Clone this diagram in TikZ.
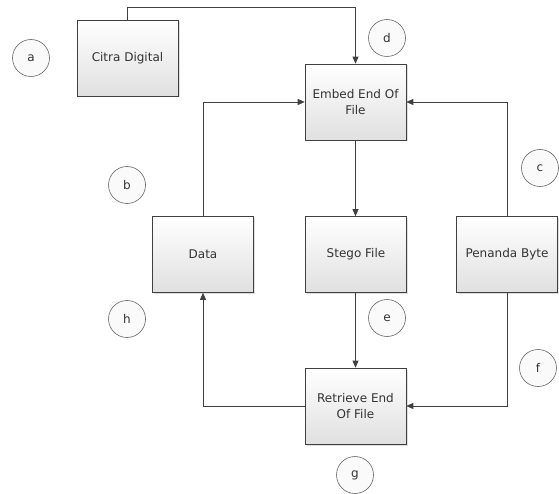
\documentclass[tikz,border=0pt]{standalone}
\usepackage{fontspec}
\setmainfont{DejaVu Sans}
\usetikzlibrary{arrows.meta,shadows}
\definecolor{lineC}{HTML}{404040}
\definecolor{boxB}{HTML}{E0E0E0}
\tikzset{
  box/.style={draw=lineC, line width=0.6pt, top color=white, bottom color=boxB,
    minimum width=101pt, minimum height=76pt, inner sep=2pt, align=center,
    font=\fontsize{12}{16}\selectfont, text=black!80,
    drop shadow={shadow xshift=1.5pt, shadow yshift=-1.5pt, fill=black!25, opacity=0.5}},
  lab/.style={circle, draw=black!60, line width=0.6pt, fill=black!2, minimum size=37pt,
    inner sep=0pt, font=\fontsize{12}{16}\selectfont, text=black!80},
  conn/.style={draw=lineC, line width=0.7pt},
  arr/.style={conn, -{Triangle[length=7pt,width=6pt]}}
}
\begin{document}
\begin{tikzpicture}[x=1pt,y=-1pt]
\useasboundingbox (0,0) rectangle (559,494);
\node[box] (citra) at (127.5,58) {Citra Digital};
\node[box] (embed) at (355.5,102) {Embed End Of\\File};
\node[box] (data) at (203,254.5) {Data};
\node[box] (stego) at (356,254.5) {Stego File};
\node[box] (penanda) at (507,254.5) {Penanda Byte};
\node[box] (retr) at (355.5,406) {Retrieve End\\Of File};

\node[lab] (a) at (31,58) {a};
\node[lab] (b) at (127,185) {b};
\node[lab] (c) at (540,168) {c};
\node[lab] (d) at (387,38) {d};
\node[lab] (e) at (387,318) {e};
\node[lab] (f) at (538,368) {f};
\node[lab] (g) at (355,475) {g};
\node[lab] (h) at (127,319) {h};

\coordinate (t1) at (127.5,7);
\coordinate (t2) at (355.5,7);
\draw[arr] (citra.north) -- (t1) -- (t2) -- (embed.north);
\draw[arr] (data.north) |- (embed.west);
\draw[arr] (penanda.north) |- (embed.east);
\draw[arr] (embed.south) -- (embed.south |- stego.north);
\draw[arr] (stego.south) -- (stego.south -| retr.north) -- (retr.north);
\draw[arr] (penanda.south) |- (retr.east);
\draw[arr] (retr.west) -| (data.south);
\end{tikzpicture}
\end{document}
